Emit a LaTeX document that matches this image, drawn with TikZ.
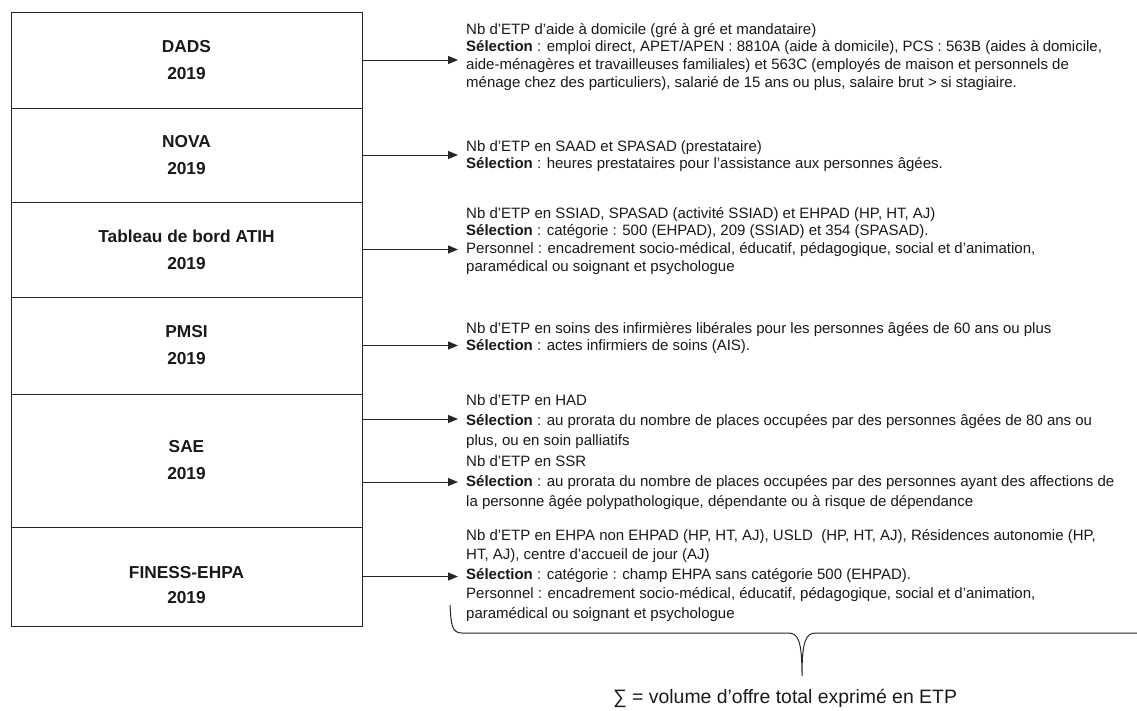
\documentclass[tikz,border=0pt]{standalone}
\usepackage{fontspec}
\setmainfont{Liberation Sans}
\usetikzlibrary{arrows.meta}
\begin{document}
\begin{tikzpicture}[x=1pt,y=-1pt,
	source/.style={draw=black!85,line width=1pt,minimum width=351pt,inner sep=0pt,align=center,font=\fontsize{17.3}{27}\selectfont\bfseries,text=black!90},
	info/.style={anchor=north west,inner sep=0pt,align=left,font=\fontsize{15}{17.7}\selectfont,text=black!90},
	arr/.style={line width=1pt,draw=black!85,-{Triangle[length=10pt,width=8pt]}}]
	\useasboundingbox (0,0) rectangle (1137,710);

	\node[source,minimum height=96pt] (dads) at (186.5,60) {DADS\\2019};
	\node[source,minimum height=94pt] (nova) at (186.5,155) {NOVA\\2019};
	\node[source,minimum height=95pt] (atih) at (186.5,249.5) {Tableau de bord ATIH\\2019};
	\node[source,minimum height=97pt] (pmsi) at (186.5,345.5) {PMSI\\2019};
	\node[source,minimum height=133pt] (sae) at (186.5,460.5) {SAE\\2019};
	\node[source,minimum height=99pt,font=\fontsize{17.3}{25}\selectfont\bfseries] (finess) at (186.5,576.5) {\rule{0pt}{30pt}FINESS-EHPA\\2019};

	\node[info] (dadsinfo) at (466,22) {\rule{0pt}{12pt}Nb d’ETP d’aide à domicile (gré à gré et mandataire)\\
		\textbf{Sélection} : emploi direct, APET/APEN : 8810A (aide à domicile), PCS : 563B (aides à domicile,\\
		aide-ménagères et travailleuses familiales) et 563C (employés de maison et personnels de\\
		ménage chez des particuliers), salarié de 15 ans ou plus, salaire brut > si stagiaire.};
	\node[info] (novainfo) at (466,139) {\rule{0pt}{12pt}Nb d’ETP en SAAD et SPASAD (prestataire)\\
		\textbf{Sélection} : heures prestataires pour l’assistance aux personnes âgées.};
	\node[info] (atihinfo) at (466,206) {\rule{0pt}{12pt}Nb d’ETP en SSIAD, SPASAD (activité SSIAD) et EHPAD (HP, HT, AJ)\\
		\textbf{Sélection} : catégorie : 500 (EHPAD), 209 (SSIAD) et 354 (SPASAD).\\
		Personnel : encadrement socio-médical, éducatif, pédagogique, social et d’animation,\\
		paramédical ou soignant et psychologue};
	\node[info] (pmsiinfo) at (466,321) {\rule{0pt}{12pt}Nb d’ETP en soins des infirmières libérales pour les personnes âgées de 60 ans ou plus\\
		\textbf{Sélection} : actes infirmiers de soins (AIS).};
	\node[info,font=\fontsize{15}{20.3}\selectfont] (saeinfo) at (466,393) {\rule{0pt}{12pt}Nb d’ETP en HAD\\
		\textbf{Sélection} : au prorata du nombre de places occupées par des personnes âgées de 80 ans ou\\
		plus, ou en soin palliatifs\\
		Nb d’ETP en SSR\\
		\textbf{Sélection} : au prorata du nombre de places occupées par des personnes ayant des affections de\\
		la personne âgée polypathologique, dépendante ou à risque de dépendance};
	\node[info,font=\fontsize{15}{19.5}\selectfont] (finessinfo) at (466,528) {\rule{0pt}{12pt}Nb d’ETP en EHPA non EHPAD (HP, HT, AJ), USLD\ \ (HP, HT, AJ), Résidences autonomie (HP,\\
		HT, AJ), centre d’accueil de jour (AJ)\\
		\textbf{Sélection} : catégorie : champ EHPA sans catégorie 500 (EHPAD).\\
		Personnel : encadrement socio-médical, éducatif, pédagogique, social et d’animation,\\
		paramédical ou soignant et psychologue};

	\coordinate (dadstip) at (458,60);
	\coordinate (novatip) at (458,155);
	\coordinate (atihtip) at (458,249.5);
	\coordinate (pmsitip) at (458,345.5);
	\coordinate (hadtip) at (458,419);
	\coordinate (ssrtip) at (458,482);
	\coordinate (finesstip) at (458,576.5);

	\draw[arr] (dads.east) -- (dadstip);
	\draw[arr] (nova.east) -- (novatip);
	\draw[arr] (atih.east) -- (atihtip);
	\draw[arr] (pmsi.east) -- (pmsitip);
	\draw[arr] (sae.east |- hadtip) -- (hadtip);
	\draw[arr] (sae.east |- ssrtip) -- (ssrtip);
	\draw[arr] (finess.east) -- (finesstip);

	\draw[line width=1pt,black!85] (450,605) .. controls (451,625) and (452,633) .. (462,633) -- (788,633)
		.. controls (798,633) and (802,640) .. (802,676)
		.. controls (802,640) and (806,633) .. (816,633) -- (1137,633);
	\node[font=\fontsize{19.4}{22}\selectfont,text=black!90] (total) at (785,698) {∑ = volume d’offre total exprimé en ETP};
\end{tikzpicture}
\end{document}
